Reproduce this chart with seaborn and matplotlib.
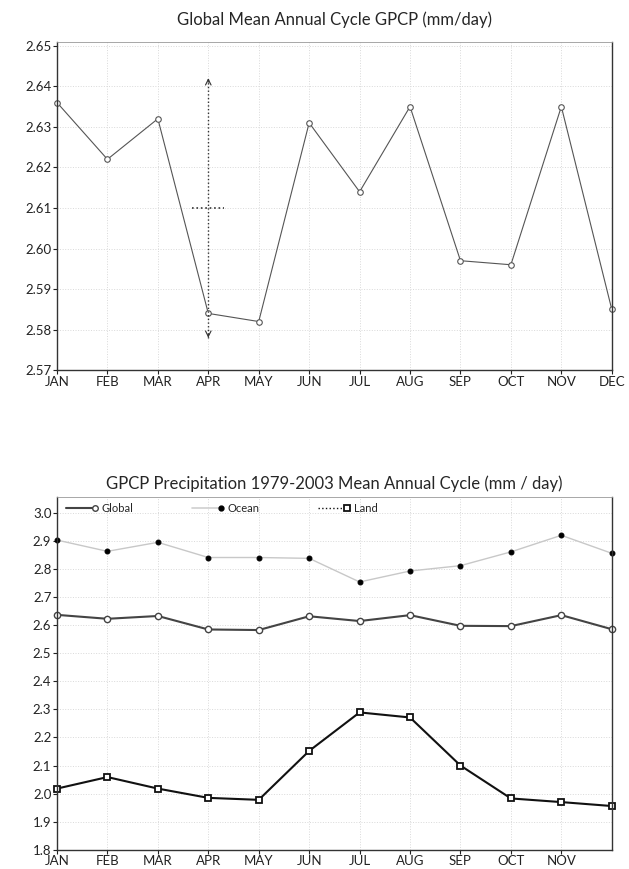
import matplotlib
matplotlib.use("Agg")
import matplotlib.pyplot as plt
from matplotlib.lines import Line2D
from matplotlib.legend_handler import HandlerLine2D
import numpy as np
import pandas as pd
import seaborn as sns

MONTHS = ["JAN", "FEB", "MAR", "APR", "MAY", "JUN", "JUL", "AUG", "SEP", "OCT", "NOV", "DEC"]
GLOBAL = [2.636, 2.622, 2.632, 2.584, 2.582, 2.631, 2.614, 2.635, 2.597, 2.596, 2.635, 2.585]
OCEAN = [2.902, 2.862, 2.894, 2.840, 2.840, 2.837, 2.753, 2.792, 2.811, 2.860, 2.919, 2.855]
LAND = [2.018, 2.059, 2.018, 1.985, 1.978, 2.152, 2.289, 2.271, 2.100, 1.983, 1.970, 1.956]
ERR_MONTH = 3
ERR_CENTER = 2.610
ERR_HALF = 0.032

sns.set_style("ticks")
plt.rcParams["font.family"] = ["Lato", "DejaVu Sans"]
plt.rcParams.update({"axes.edgecolor": "#333333", "axes.linewidth": 1.0,
                     "xtick.color": "#222222", "ytick.color": "#222222"})


class EndMarkerHandler(HandlerLine2D):
    # legend line with the marker drawn only at its right end
    def create_artists(self, legend, orig_handle, xdescent, ydescent, width,
                       height, fontsize, trans):
        arts = super().create_artists(legend, orig_handle, xdescent, ydescent,
                                      width, height, fontsize, trans)
        for a in arts:
            if isinstance(a, Line2D):
                a.set_markevery([-1])
        return arts


idx = np.arange(len(MONTHS))
df = pd.DataFrame({"m": idx, "Global": GLOBAL, "Ocean": OCEAN, "Land": LAND})

fig = plt.figure(figsize=(6.29, 8.69), dpi=100)
ax1 = fig.add_axes([0.0906, 0.574, 0.882, 0.378])
ax2 = fig.add_axes([0.0906, 0.022, 0.882, 0.406])

GRID = dict(color="#d9d9d9", linestyle=":", linewidth=0.7)

# --- top panel
sns.lineplot(data=df, x="m", y="Global", ax=ax1, color="#555555", linewidth=0.8,
             marker="o", markersize=4, markerfacecolor="white",
             markeredgecolor="#555555", markeredgewidth=0.8, clip_on=False)
ax1.plot([ERR_MONTH, ERR_MONTH], [ERR_CENTER - ERR_HALF, ERR_CENTER + ERR_HALF],
         color="#333333", linestyle=":", linewidth=1.0)
ax1.plot([ERR_MONTH - 0.32, ERR_MONTH + 0.32], [ERR_CENTER, ERR_CENTER],
         color="#333333", linestyle=":", linewidth=1.2)
for tip, sgn in [(ERR_CENTER + ERR_HALF, 1), (ERR_CENTER - ERR_HALF, -1)]:
    ax1.annotate("", xy=(ERR_MONTH, tip), xytext=(ERR_MONTH, tip - sgn * 0.001),
                 arrowprops=dict(arrowstyle="->", lw=0.8, color="#333333",
                                 shrinkA=0, shrinkB=0, mutation_scale=10))
ax1.set_xlim(0, 11)
ax1.set_ylim(2.57, 2.651)
ax1.set_yticks(np.arange(2.57, 2.6501, 0.01))
ax1.set_yticklabels([f"{v:.2f}" for v in np.arange(2.57, 2.6501, 0.01)])
ax1.set_xticks(idx)
ax1.set_xticklabels(MONTHS)
ax1.set_title("Global Mean Annual Cycle GPCP (mm/day)", fontsize=12, pad=12)

# --- bottom panel
sns.lineplot(data=df, x="m", y="Ocean", ax=ax2, color="#c8c8c8", linewidth=1.0,
             marker="o", markersize=3.5, markerfacecolor="black",
             markeredgecolor="black", clip_on=False)
sns.lineplot(data=df, x="m", y="Global", ax=ax2, color="#444444", linewidth=1.5,
             marker="o", markersize=4.5, markerfacecolor="white",
             markeredgecolor="#444444", markeredgewidth=1.0, clip_on=False)
sns.lineplot(data=df, x="m", y="Land", ax=ax2, color="#111111", linewidth=1.5,
             marker="s", markersize=4.5, markerfacecolor="white",
             markeredgecolor="#111111", markeredgewidth=1.3, clip_on=False)
ax2.set_xlim(0, 11)
ax2.set_ylim(1.8, 3.055)
ax2.set_yticks(np.arange(1.8, 3.001, 0.1))
ax2.set_yticklabels([f"{v:.1f}" for v in np.arange(1.8, 3.001, 0.1)])
ax2.set_xticks(idx[:-1])
ax2.set_xticklabels(MONTHS[:-1])
ax2.set_title("GPCP Precipitation 1979-2003 Mean Annual Cycle (mm / day)", fontsize=12, pad=6)

handles = [
    Line2D([], [], color="#444444", lw=1.5, marker="o", ms=4, mfc="white",
           mec="#444444"),
    Line2D([], [], color="#d0d0d0", lw=1.2, marker="o", ms=3.5, mfc="black",
           mec="black"),
    Line2D([], [], color="#111111", lw=1.0, ls=":", marker="s", ms=4, mfc="white",
           mec="#111111", mew=1.3),
]
ax2.legend(handles, ["Global", "Ocean", "Land"], loc="upper left", ncol=3,
           frameon=False, fontsize=8, numpoints=2, handlelength=3.2,
           columnspacing=4.95, borderaxespad=0.15, handletextpad=0.3,
           handler_map={Line2D: EndMarkerHandler()})

for ax in (ax1, ax2):
    ax.set_xlabel("")
    ax.set_ylabel("")
    ax.grid(True, **GRID)
    ax.tick_params(labelsize=9.5, length=3, width=0.8, pad=1)
    ax.spines["top"].set_color("#999999")
    ax.spines["top"].set_linewidth(0.6)
    for s in ("left", "bottom", "right"):
        ax.spines[s].set_visible(True)

fig.savefig("out.png", dpi=100)
